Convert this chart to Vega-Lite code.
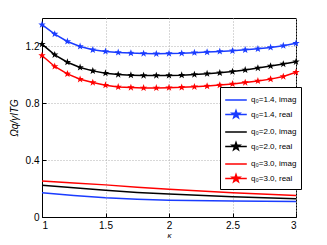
{
  "$schema": "https://vega.github.io/schema/vega-lite/v6.json",
  "width": 254,
  "height": 199,
  "autosize": {"type": "none"},
  "padding": {"left": 42, "top": 18, "right": 31, "bottom": 28},
  "background": "white",
  "config": {
    "view": {"stroke": "black", "strokeWidth": 1},
    "font": "Liberation Sans",
    "axis": {
      "domainColor": "black",
      "tickColor": "black",
      "tickSize": -4,
      "labelColor": "black",
      "labelFont": "Liberation Sans",
      "labelFontSize": 10,
      "labelOverlap": false,
      "gridColor": "#b0b0b0",
      "gridDash": [1, 2],
      "gridWidth": 1,
      "titleColor": "black",
      "titleFontWeight": "normal"
    }
  },
  "data": {"values": [
      {"k": 1.0, "v": 1.353, "series": "q₀=1.4, real", "kind": "real"},
      {"k": 1.1, "v": 1.287, "series": "q₀=1.4, real", "kind": "real"},
      {"k": 1.2, "v": 1.235, "series": "q₀=1.4, real", "kind": "real"},
      {"k": 1.3, "v": 1.200, "series": "q₀=1.4, real", "kind": "real"},
      {"k": 1.4, "v": 1.176, "series": "q₀=1.4, real", "kind": "real"},
      {"k": 1.5, "v": 1.165, "series": "q₀=1.4, real", "kind": "real"},
      {"k": 1.6, "v": 1.158, "series": "q₀=1.4, real", "kind": "real"},
      {"k": 1.7, "v": 1.153, "series": "q₀=1.4, real", "kind": "real"},
      {"k": 1.8, "v": 1.150, "series": "q₀=1.4, real", "kind": "real"},
      {"k": 1.9, "v": 1.148, "series": "q₀=1.4, real", "kind": "real"},
      {"k": 2.0, "v": 1.150, "series": "q₀=1.4, real", "kind": "real"},
      {"k": 2.1, "v": 1.152, "series": "q₀=1.4, real", "kind": "real"},
      {"k": 2.2, "v": 1.156, "series": "q₀=1.4, real", "kind": "real"},
      {"k": 2.3, "v": 1.160, "series": "q₀=1.4, real", "kind": "real"},
      {"k": 2.4, "v": 1.165, "series": "q₀=1.4, real", "kind": "real"},
      {"k": 2.5, "v": 1.169, "series": "q₀=1.4, real", "kind": "real"},
      {"k": 2.6, "v": 1.176, "series": "q₀=1.4, real", "kind": "real"},
      {"k": 2.7, "v": 1.183, "series": "q₀=1.4, real", "kind": "real"},
      {"k": 2.8, "v": 1.193, "series": "q₀=1.4, real", "kind": "real"},
      {"k": 2.9, "v": 1.205, "series": "q₀=1.4, real", "kind": "real"},
      {"k": 3.0, "v": 1.222, "series": "q₀=1.4, real", "kind": "real"},
      {"k": 1.0, "v": 1.216, "series": "q₀=2.0, real", "kind": "real"},
      {"k": 1.1, "v": 1.141, "series": "q₀=2.0, real", "kind": "real"},
      {"k": 1.2, "v": 1.089, "series": "q₀=2.0, real", "kind": "real"},
      {"k": 1.3, "v": 1.052, "series": "q₀=2.0, real", "kind": "real"},
      {"k": 1.4, "v": 1.028, "series": "q₀=2.0, real", "kind": "real"},
      {"k": 1.5, "v": 1.012, "series": "q₀=2.0, real", "kind": "real"},
      {"k": 1.6, "v": 1.002, "series": "q₀=2.0, real", "kind": "real"},
      {"k": 1.7, "v": 0.998, "series": "q₀=2.0, real", "kind": "real"},
      {"k": 1.8, "v": 0.995, "series": "q₀=2.0, real", "kind": "real"},
      {"k": 1.9, "v": 0.995, "series": "q₀=2.0, real", "kind": "real"},
      {"k": 2.0, "v": 0.996, "series": "q₀=2.0, real", "kind": "real"},
      {"k": 2.1, "v": 0.998, "series": "q₀=2.0, real", "kind": "real"},
      {"k": 2.2, "v": 1.002, "series": "q₀=2.0, real", "kind": "real"},
      {"k": 2.3, "v": 1.008, "series": "q₀=2.0, real", "kind": "real"},
      {"k": 2.4, "v": 1.014, "series": "q₀=2.0, real", "kind": "real"},
      {"k": 2.5, "v": 1.023, "series": "q₀=2.0, real", "kind": "real"},
      {"k": 2.6, "v": 1.035, "series": "q₀=2.0, real", "kind": "real"},
      {"k": 2.7, "v": 1.048, "series": "q₀=2.0, real", "kind": "real"},
      {"k": 2.8, "v": 1.062, "series": "q₀=2.0, real", "kind": "real"},
      {"k": 2.9, "v": 1.076, "series": "q₀=2.0, real", "kind": "real"},
      {"k": 3.0, "v": 1.092, "series": "q₀=2.0, real", "kind": "real"},
      {"k": 1.0, "v": 1.136, "series": "q₀=3.0, real", "kind": "real"},
      {"k": 1.1, "v": 1.059, "series": "q₀=3.0, real", "kind": "real"},
      {"k": 1.2, "v": 1.007, "series": "q₀=3.0, real", "kind": "real"},
      {"k": 1.3, "v": 0.969, "series": "q₀=3.0, real", "kind": "real"},
      {"k": 1.4, "v": 0.946, "series": "q₀=3.0, real", "kind": "real"},
      {"k": 1.5, "v": 0.927, "series": "q₀=3.0, real", "kind": "real"},
      {"k": 1.6, "v": 0.915, "series": "q₀=3.0, real", "kind": "real"},
      {"k": 1.7, "v": 0.911, "series": "q₀=3.0, real", "kind": "real"},
      {"k": 1.8, "v": 0.908, "series": "q₀=3.0, real", "kind": "real"},
      {"k": 1.9, "v": 0.908, "series": "q₀=3.0, real", "kind": "real"},
      {"k": 2.0, "v": 0.910, "series": "q₀=3.0, real", "kind": "real"},
      {"k": 2.1, "v": 0.912, "series": "q₀=3.0, real", "kind": "real"},
      {"k": 2.2, "v": 0.916, "series": "q₀=3.0, real", "kind": "real"},
      {"k": 2.3, "v": 0.921, "series": "q₀=3.0, real", "kind": "real"},
      {"k": 2.4, "v": 0.928, "series": "q₀=3.0, real", "kind": "real"},
      {"k": 2.5, "v": 0.936, "series": "q₀=3.0, real", "kind": "real"},
      {"k": 2.6, "v": 0.946, "series": "q₀=3.0, real", "kind": "real"},
      {"k": 2.7, "v": 0.957, "series": "q₀=3.0, real", "kind": "real"},
      {"k": 2.8, "v": 0.970, "series": "q₀=3.0, real", "kind": "real"},
      {"k": 2.9, "v": 0.988, "series": "q₀=3.0, real", "kind": "real"},
      {"k": 3.0, "v": 1.018, "series": "q₀=3.0, real", "kind": "real"},
      {"k": 1.0, "v": 0.171, "series": "q₀=1.4, imag", "kind": "imag"},
      {"k": 1.25, "v": 0.152, "series": "q₀=1.4, imag", "kind": "imag"},
      {"k": 1.5, "v": 0.136, "series": "q₀=1.4, imag", "kind": "imag"},
      {"k": 1.75, "v": 0.125, "series": "q₀=1.4, imag", "kind": "imag"},
      {"k": 2.0, "v": 0.118, "series": "q₀=1.4, imag", "kind": "imag"},
      {"k": 2.5, "v": 0.113, "series": "q₀=1.4, imag", "kind": "imag"},
      {"k": 3.0, "v": 0.109, "series": "q₀=1.4, imag", "kind": "imag"},
      {"k": 1.0, "v": 0.224, "series": "q₀=2.0, imag", "kind": "imag"},
      {"k": 1.25, "v": 0.205, "series": "q₀=2.0, imag", "kind": "imag"},
      {"k": 1.5, "v": 0.188, "series": "q₀=2.0, imag", "kind": "imag"},
      {"k": 1.75, "v": 0.173, "series": "q₀=2.0, imag", "kind": "imag"},
      {"k": 2.0, "v": 0.161, "series": "q₀=2.0, imag", "kind": "imag"},
      {"k": 2.5, "v": 0.143, "series": "q₀=2.0, imag", "kind": "imag"},
      {"k": 3.0, "v": 0.129, "series": "q₀=2.0, imag", "kind": "imag"},
      {"k": 1.0, "v": 0.254, "series": "q₀=3.0, imag", "kind": "imag"},
      {"k": 1.25, "v": 0.240, "series": "q₀=3.0, imag", "kind": "imag"},
      {"k": 1.5, "v": 0.226, "series": "q₀=3.0, imag", "kind": "imag"},
      {"k": 1.75, "v": 0.210, "series": "q₀=3.0, imag", "kind": "imag"},
      {"k": 2.0, "v": 0.195, "series": "q₀=3.0, imag", "kind": "imag"},
      {"k": 2.5, "v": 0.171, "series": "q₀=3.0, imag", "kind": "imag"},
      {"k": 3.0, "v": 0.152, "series": "q₀=3.0, imag", "kind": "imag"}
  ]},
  "layer": [
    {
      "mark": {"type": "line", "strokeWidth": 1.5},
      "encoding": {
        "x": {
          "field": "k", "type": "quantitative",
          "scale": {"domain": [1, 3], "nice": false},
          "axis": {"values": [1, 1.5, 2, 2.5, 3], "format": "~g", "title": "κ", "titleFontSize": 8, "titleFontStyle": "italic", "titlePadding": 1, "labelPadding": 7, "labelOverlap": false}
        },
        "y": {
          "field": "v", "type": "quantitative",
          "scale": {"domain": [0, 1.4], "nice": false},
          "axis": {"values": [0, 0.2, 0.4, 0.6, 0.8, 1, 1.2, 1.4], "format": "~g", "title": "Ωq/γITG", "titleFontSize": 10, "titleFontStyle": "italic", "titlePadding": 6, "labelPadding": 7, "labelOverlap": false}
        },
        "color": {
          "field": "series", "type": "nominal",
          "scale": {
            "domain": ["q₀=1.4, imag", "q₀=1.4, real", "q₀=2.0, imag", "q₀=2.0, real", "q₀=3.0, imag", "q₀=3.0, real"],
            "range": ["#1a3cff", "#1a3cff", "#000000", "#000000", "#ff0000", "#ff0000"]
          },
          "legend": {
            "title": null,
            "orient": "none",
            "legendX": 178,
            "legendY": 69,
            "fillColor": "white",
            "strokeColor": "black",
            "padding": 4,
            "labelFont": "Liberation Sans",
            "labelFontSize": 8,
            "labelColor": "black",
            "labelOffset": 6,
            "symbolOffset": 3,
            "rowPadding": 1.5,
            "symbolSize": 256,
            "symbolStrokeWidth": 1.5,
            "encode": {
              "symbols": {
                "update": {
                  "shape": {"signal": "indexof(datum.value, 'real') >= 0 ? 'M-1.35,0H1.35M0,-0.5L0.118,-0.162L0.476,-0.155L0.19,0.062L0.294,0.405L0,0.2L-0.294,0.405L-0.19,0.062L-0.476,-0.155L-0.118,-0.162Z' : 'M-1.35,0H1.35'"},
                  "fill": {"scale": "color", "field": "value"},
                  "stroke": {"scale": "color", "field": "value"},
                  "strokeWidth": {"value": 1.5},
                  "opacity": {"value": 1},
                  "fillOpacity": {"value": 1},
                  "strokeOpacity": {"value": 1}
                }
              }
            }
          }
        }
      }
    },
    {
      "transform": [{"filter": {"field": "kind", "equal": "real"}}],
      "mark": {"type": "point", "shape": "M0,-1L0.235,-0.324L0.951,-0.309L0.38,0.124L0.588,0.809L0,0.4L-0.588,0.809L-0.38,0.124L-0.951,-0.309L-0.235,-0.324Z", "filled": true, "size": 60, "opacity": 1},
      "encoding": {
        "x": {"field": "k", "type": "quantitative"},
        "y": {"field": "v", "type": "quantitative"},
        "color": {"field": "series", "type": "nominal"}
      }
    }
  ]
}
